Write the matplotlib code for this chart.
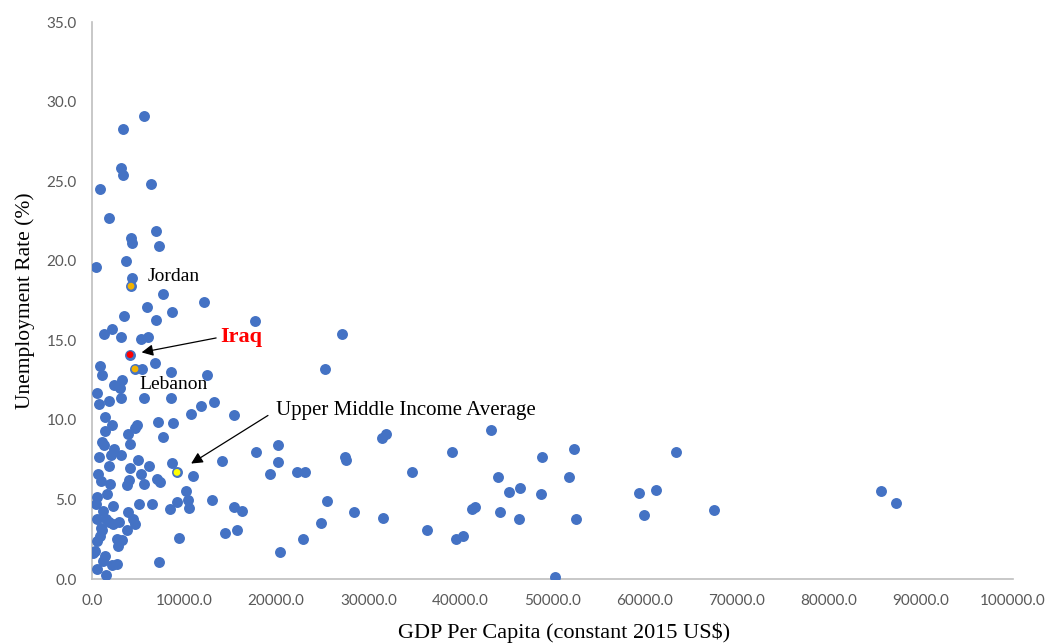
import matplotlib
matplotlib.use("Agg")
import matplotlib.pyplot as plt
from matplotlib.ticker import FormatStrFormatter

# GDP per capita (constant 2015 US$) and unemployment rate (%) by country
gdp = [
    5600, 3400, 3150, 3370, 870, 6400, 1850, 6950, 4240, 4340,
    7280, 430, 3690, 4340, 7710, 12160, 5970, 8690, 3480, 6950,
    17700, 27150, 2170, 1300, 3150, 6080, 5320, 6840, 870, 25300,
    5430, 8580, 1090, 12490, 3260, 2390, 3040, 540, 1850, 3150,
    5650, 8580, 760, 11840, 13250, 10750, 15420, 1410, 2170, 4890,
    4670, 3910, 7170, 8800, 7710, 1410, 1090, 2390, 4130, 3150,
    2060, 760, 1850, 5000, 6190, 4130, 5320, 5650, 3800, 4020,
    650, 980, 1950, 8690, 10970, 7060, 7380, 14120, 10210, 10430,
    9230, 8470, 10530, 13030, 6520, 5100, 540, 1630, 2280, 3910,
    540, 1850, 2930, 4450, 4670, 1090, 3800, 2720, 3260, 540,
    2820, 9450, 14440, 330, 1410, 2720, 2170, 540, 7280, 1520,
    1200, 1300, 430, 1200, 1520, 2280, 980, 870, 110,
    17810, 20200, 20200, 19330, 22260, 23130, 27480, 27590, 31490, 31930,
    34750, 39100, 15420, 16290, 15750, 25520, 28450, 31600, 36380, 24870,
    22910, 20420, 43330, 48870, 52350, 44090, 51800, 45290, 46480, 48760,
    41270, 41590, 44310, 46370, 52560, 39530, 40290, 50280, 63420, 59400,
    61250, 59950, 67550, 85690, 87310,
]
unemployment = [
    29.1, 28.3, 25.8, 25.4, 24.5, 24.8, 22.7, 21.9, 21.4, 21.1,
    20.9, 19.6, 20.0, 18.9, 17.9, 17.4, 17.1, 16.8, 16.5, 16.3,
    16.2, 15.4, 15.7, 15.4, 15.2, 15.2, 15.1, 13.6, 13.4, 13.2,
    13.2, 13.0, 12.8, 12.8, 12.5, 12.2, 12.0, 11.7, 11.2, 11.35,
    11.35, 11.4, 11.0, 10.9, 11.1, 10.35, 10.3, 10.2, 9.66, 9.66,
    9.47, 9.1, 9.85, 9.8, 8.9, 9.3, 8.6, 8.2, 8.5, 7.8,
    7.8, 7.65, 7.1, 7.46, 7.1, 6.96, 6.6, 6.0, 5.9, 6.2,
    6.6, 6.15, 5.96, 7.3, 6.5, 6.3, 6.1, 7.4, 5.5, 4.95,
    4.83, 4.4, 4.45, 4.95, 4.7, 4.7, 5.14, 5.33, 4.6, 4.2,
    3.8, 3.6, 3.6, 3.76, 3.45, 3.07, 3.07, 2.5, 2.45, 2.4,
    2.07, 2.57, 2.9, 1.76, 1.44, 0.94, 0.88, 0.63, 1.07, 0.25,
    1.13, 8.4, 4.7, 4.26, 3.76, 3.45, 3.2, 2.7, 1.63,
    8.0, 8.4, 7.34, 6.6, 6.7, 6.7, 7.65, 7.46, 8.84, 9.1,
    6.7, 7.97, 4.5, 4.26, 3.07, 4.9, 4.2, 3.83, 3.07, 3.5,
    2.5, 1.7, 9.35, 7.65, 8.2, 6.4, 6.4, 5.46, 5.7, 5.33,
    4.4, 4.5, 4.2, 3.76, 3.76, 2.5, 2.7, 0.13, 7.97, 5.4,
    5.58, 4.0, 4.33, 5.5, 4.77,
]

# Highlighted economies
highlight_names = ["Jordan", "Iraq", "Lebanon", "Upper Middle Income Average"]
highlight_gdp = [4240, 4130, 4670, 9230]
highlight_unemp = [18.4, 14.1, 13.2, 6.7]
highlight_colors = ["#F2B200", "#FF0000", "#F2B200", "#FFFF00"]

x_ticks = [0, 10000, 20000, 30000, 40000, 50000, 60000, 70000, 80000, 90000, 100000]
y_ticks = [0, 5, 10, 15, 20, 25, 30, 35]

blue = "#4472C4"
serif = ["Liberation Serif", "DejaVu Serif"]

fig = plt.figure(figsize=(10.5, 6.44), dpi=100)
ax = fig.add_axes([0.0876, 0.1009, 0.8772, 0.8649])

ax.scatter(gdp, unemployment, s=62, color=blue, linewidths=0, zorder=3)
ax.scatter(highlight_gdp, highlight_unemp, s=62, color=blue, linewidths=0, zorder=3)
ax.scatter(highlight_gdp, highlight_unemp, s=24, facecolor=highlight_colors,
           edgecolor="none", zorder=4)

ax.set_xlim(x_ticks[0], x_ticks[-1])
ax.set_ylim(y_ticks[0], y_ticks[-1])
ax.set_xticks(x_ticks)
ax.set_yticks(y_ticks)
ax.xaxis.set_major_formatter(FormatStrFormatter("%.1f"))
ax.yaxis.set_major_formatter(FormatStrFormatter("%.1f"))
ax.tick_params(length=0, labelsize=11, colors="#595959")
ax.tick_params(axis="x", pad=11)
ax.tick_params(axis="y", pad=11)
for lbl in ax.get_xticklabels() + ax.get_yticklabels():
    lbl.set_family(["Lato", "DejaVu Sans"])

for side in ("top", "right"):
    ax.spines[side].set_visible(False)
for side in ("left", "bottom"):
    ax.spines[side].set_color("#BFBFBF")
    ax.spines[side].set_linewidth(1.2)

ax.set_xlabel("GDP Per Capita (constant 2015 US$)", family=serif, fontsize=16,
              color="black", va="center")
ax.xaxis.set_label_coords(0.5125, -0.0970)
ax.set_ylabel("Unemployment Rate (%)", family=serif, fontsize=15.5,
              color="black", labelpad=8)

arrow_style = dict(arrowstyle="-|>", color="black", lw=0.9, mutation_scale=17,
                   shrinkA=0)

# Labels for the highlighted points
ax.annotate(highlight_names[0], (highlight_gdp[0], highlight_unemp[0]),
            xytext=(12, 7), textcoords="offset points",
            family=serif, fontsize=14, va="center", ha="left")
ax.annotate(highlight_names[1], (highlight_gdp[1], highlight_unemp[1]),
            xytext=(65, 13), textcoords="offset points",
            family=serif, fontsize=16, fontweight="bold", color="#FF0000",
            va="center", ha="left")
ax.annotate("", (highlight_gdp[1], highlight_unemp[1]),
            xytext=(62, 12), textcoords="offset points",
            arrowprops=dict(arrow_style, shrinkB=8.5))
ax.annotate(highlight_names[2], (highlight_gdp[2], highlight_unemp[2]),
            xytext=(3, -11), textcoords="offset points",
            family=serif, fontsize=14, va="center", ha="left")
ax.annotate(highlight_names[3], (highlight_gdp[3], highlight_unemp[3]),
            xytext=(71, 44.5), textcoords="offset points",
            family=serif, fontsize=15, va="center", ha="left")
ax.annotate("", (highlight_gdp[3], highlight_unemp[3]),
            xytext=(65.5, 41), textcoords="offset points",
            arrowprops=dict(arrow_style, shrinkB=12))

fig.savefig("out.png", dpi=100, facecolor="white")
